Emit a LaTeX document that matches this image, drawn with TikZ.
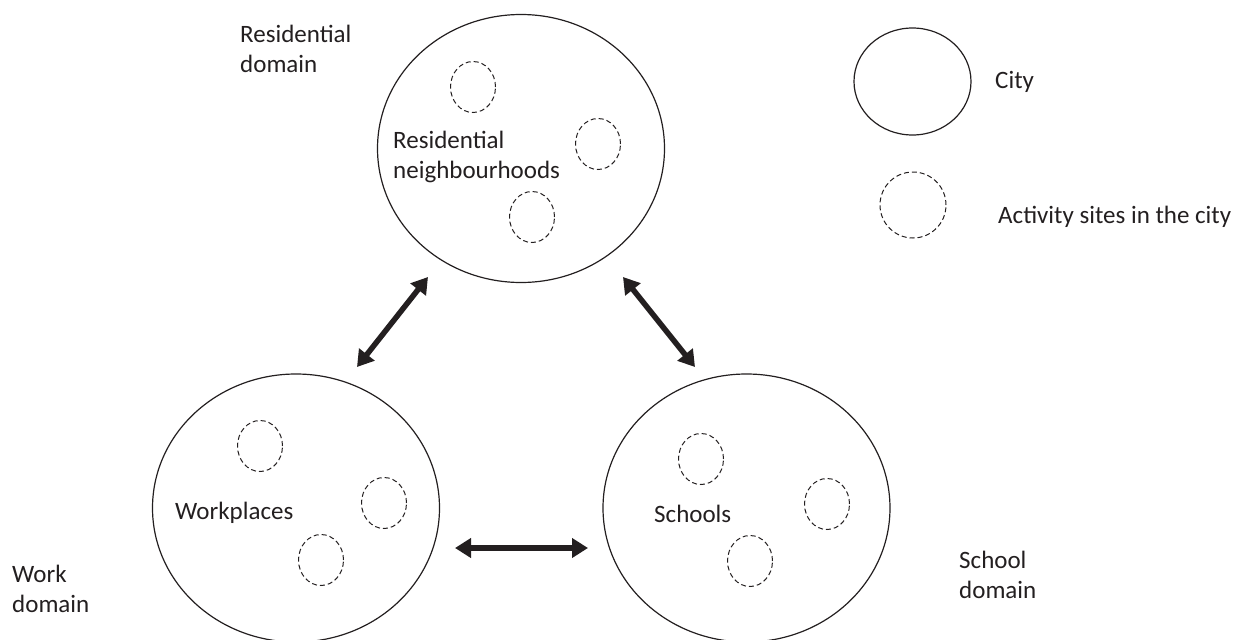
\documentclass[tikz,border=0pt]{standalone}
\usepackage{fontspec}
\setmainfont{Carlito}
\usetikzlibrary{arrows.meta,shapes.geometric}
\definecolor{ink}{RGB}{35,31,32}

\begin{document}
\begin{tikzpicture}[
                    x = 1pt,
                    y = -1pt,
                    ink,
                    font = \fontsize{25}{30}\selectfont,
                    city/.style  = {draw, ellipse, line width = 1.2pt, inner sep = 0pt, minimum width = 287pt, minimum height = 268pt},
                    site/.style  = {draw, ellipse, line width = 1pt, dash pattern = on 5pt off 3pt, inner sep = 0pt, minimum width = 45pt, minimum height = 51pt},
                    lbl/.style   = {anchor = base west, align = left, inner sep = 0pt},
                    link/.style  = {{Triangle[length=16pt,width=19pt]}-{Triangle[length=16pt,width=19pt]}, line width = 5.5pt}]
                \useasboundingbox (0,0) rectangle (1243,640);
                \node[city]                                        (res)    at (521,148.5) {};
                \node[city]                                        (work)   at (296,508)   {};
                \node[city]                                        (school) at (746.5,508) {};
                \node[city, minimum width = 117pt, minimum height = 107pt] (keycity) at (912.5,81.5) {};
                \node[site, minimum width = 66pt, minimum height = 66pt]   (keysite) at (913,205)   {};
                \node[site] (res1)    at (473,87)  {};
                \node[site] (res2)    at (598,144) {};
                \node[site] (res3)    at (532,217) {};
                \node[site] (work1)   at (260,446) {};
                \node[site] (work2)   at (384,503) {};
                \node[site] (work3)   at (321,560) {};
                \node[site] (school1) at (701,459) {};
                \node[site] (school2) at (827,504) {};
                \node[site] (school3) at (750,561) {};
                \node[lbl] (resin)    at (393,178) {Residential\\neighbourhoods};
                \node[lbl] (workin)   at (175,519) {Workplaces};
                \node[lbl] (schoolin) at (654,522) {Schools};
                \node[lbl] (resdom)   at (240,72)  {Residential\\domain};
                \node[lbl] (workdom)  at (12,612)  {Work\\domain};
                \node[lbl] (schooldom) at (959,598) {School\\domain};
                \node[lbl] (keycitytxt) at (995,88)  {City};
                \node[lbl] (keysitetxt) at (998,223) {Activity sites in the city};
                \coordinate (rw1) at (428,277);
                \coordinate (rw2) at (357,367);
                \coordinate (rs1) at (623,277);
                \coordinate (rs2) at (695,367);
                \coordinate (ws1) at (455,548);
                \coordinate (ws2) at (588,548);
                \draw[link] (rw1) -- (rw2);
                \draw[link] (rs1) -- (rs2);
                \draw[link] (ws1) -- (ws2);
            \end{tikzpicture}
\end{document}
